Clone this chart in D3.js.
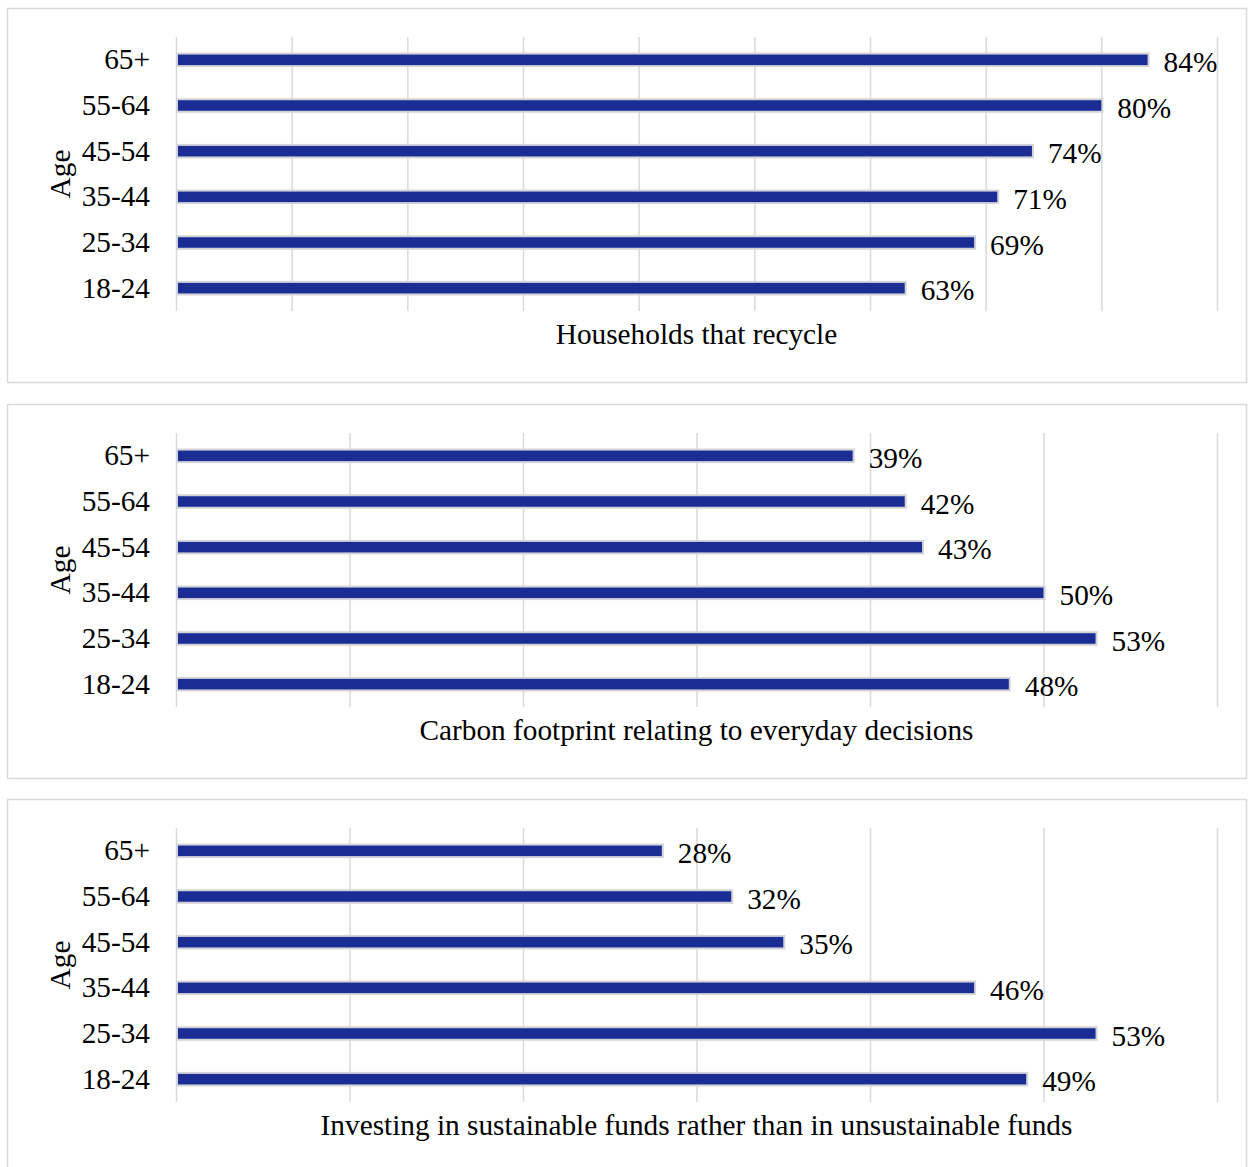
<!DOCTYPE html>
<html>
<head>
<meta charset="utf-8">
<script src="https://cdn.jsdelivr.net/npm/d3@7"></script>
<style>
  html, body { margin: 0; padding: 0; background: #fff; }
  svg { display: block; }
</style>
</head>
<body>
<svg id="chart" width="1251" height="1167"></svg>
<script>
const categories = ["18-24", "25-34", "35-44", "45-54", "55-64", "65+"];
const recycleValues = [63, 69, 71, 74, 80, 84];
const carbonValues = [48, 53, 50, 43, 42, 39];
const investValues = [49, 53, 46, 35, 32, 28];
const panelTitles = [
  "Households that recycle",
  "Carbon footprint relating to everyday decisions",
  "Investing in sustainable funds rather than in unsustainable funds"
];
const axisMax = [90, 60, 60];
const tickSteps = [10, 10, 10];
const yAxisTitle = "Age";

const panels = [
  { values: recycleValues, title: panelTitles[0], max: axisMax[0], step: tickSteps[0], top: 8, bottom: 382 },
  { values: carbonValues, title: panelTitles[1], max: axisMax[1], step: tickSteps[1], top: 404, bottom: 778 },
  { values: investValues, title: panelTitles[2], max: axisMax[2], step: tickSteps[2], top: 799, bottom: 1180 }
];

const svg = d3.select("#chart");
const font = "'Liberation Serif', 'Times New Roman', serif";
const fontSize = 29.3;
const left = 176, right = 1217;
const barColor = "#1a2d95";

panels.forEach(p => {
  const g = svg.append("g").attr("transform", `translate(0,${p.top})`);
  g.append("rect")
    .attr("x", 7.5).attr("y", 0.5)
    .attr("width", 1239).attr("height", p.bottom - p.top)
    .attr("fill", "#fff").attr("stroke", "#d9d9d9").attr("stroke-width", 1.5);

  const plotTop = 29, plotBottom = 303;
  const x = d3.scaleLinear().domain([0, p.max]).range([left, right]);
  const y = d3.scaleBand()
    .domain(categories.slice().reverse())
    .range([plotTop, plotBottom])
    .paddingInner(0.726).paddingOuter(0.363);

  const ticks = d3.range(0, p.max + 0.001, p.step);
  const gx = g.append("g")
    .attr("transform", `translate(0,${plotBottom})`)
    .call(d3.axisBottom(x).tickValues(ticks).tickSize(-(plotBottom - plotTop)).tickFormat(""));
  gx.select(".domain").remove();
  gx.selectAll(".tick line").attr("stroke", "#d9d9d9").attr("stroke-width", 1.5);

  const gy = g.append("g")
    .attr("transform", `translate(${left},0)`)
    .call(d3.axisLeft(y).tickSize(0).tickPadding(26));
  gy.select(".domain").remove();
  gy.selectAll(".tick text")
    .attr("font-family", font).attr("font-size", fontSize).attr("fill", "#000");

  const data = categories.map((c, i) => ({ c, v: p.values[i] }));
  g.selectAll("rect.bar").data(data).enter().append("rect")
    .attr("class", "bar")
    .attr("x", x(0) + 1)
    .attr("y", d => y(d.c))
    .attr("width", d => x(d.v) - x(0))
    .attr("height", y.bandwidth())
    .attr("fill", barColor)
    .attr("stroke", "#d2d2d8").attr("stroke-width", 2);

  g.selectAll("text.val").data(data).enter().append("text")
    .attr("class", "val")
    .attr("x", d => x(d.v) + 16)
    .attr("y", d => y(d.c) + y.bandwidth() / 2 + 2)
    .attr("dominant-baseline", "central")
    .attr("font-family", font).attr("font-size", fontSize).attr("fill", "#000")
    .text(d => d.v + "%");

  g.append("text")
    .attr("x", (left + right) / 2)
    .attr("y", 326)
    .attr("text-anchor", "middle")
    .attr("dominant-baseline", "central")
    .attr("font-family", font).attr("font-size", fontSize).attr("fill", "#000")
    .text(p.title);

  g.append("text")
    .attr("transform", `translate(60,${(plotTop + plotBottom) / 2}) rotate(-90)`)
    .attr("text-anchor", "middle")
    .attr("dominant-baseline", "central")
    .attr("font-family", font).attr("font-size", fontSize).attr("fill", "#000")
    .text(yAxisTitle);
});
</script>
</body>
</html>
